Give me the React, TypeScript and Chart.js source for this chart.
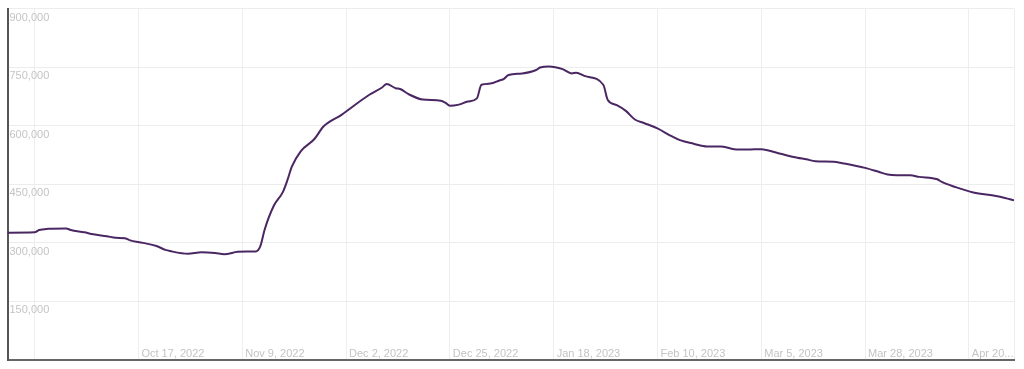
import { useEffect, useRef } from "react";
import { Chart, registerables } from "chart.js";

Chart.register(...registerables);

// x = day index from the start of the series (Sep 18, 2022)
const dayIndex = [
  0, 6, 7, 9, 13, 14, 17, 19, 22, 24, 26, 27, 30, 33, 35, 36, 40, 43, 46, 48,
  51, 53, 55, 56, 57, 59, 61, 62, 63, 65, 68, 70, 74, 80, 83, 84, 86, 87, 89, 92,
  96, 97, 98, 100, 102, 104, 105, 107, 109, 110, 111, 114, 117, 118, 120, 123, 125, 126, 128, 132,
  133, 135, 137, 139, 141, 144, 147, 149, 152, 155, 158, 161, 164, 167, 171, 175, 177, 179, 183, 185,
  190, 193, 195, 197, 200, 202, 206, 207, 210, 214, 219, 221, 223,
];

const values = [
  326000, 327000, 333000, 336000, 337000, 333000, 327000, 322000, 317000, 313000,
  312000, 307000, 300000, 292000, 282000, 279000, 272000, 276000, 274000, 271000,
  277000, 278000, 278000, 291000, 335000, 395000, 430000, 460000, 495000, 535000,
  566000, 598000, 628000, 678000, 698000, 707000, 696000, 694000, 680000, 667000,
  664000, 659000, 651000, 654000, 662000, 670000, 705000, 708000, 716000, 720000,
  730000, 734000, 742000, 749000, 752000, 745000, 734000, 736000, 727000, 705000,
  666000, 653000, 638000, 616000, 607000, 593000, 574000, 563000, 554000, 547000,
  547000, 540000, 539000, 540000, 529000, 518000, 514000, 509000, 508000, 504000,
  492000, 482000, 475000, 473000, 473000, 469000, 463000, 456000, 443000, 429000,
  420000, 415000, 409000,
];

const tickDays = [6, 29, 52, 75, 98, 121, 144, 167, 190, 213, 223];
const tickLabels = [
  "",
  "Oct 17, 2022",
  "Nov 9, 2022",
  "Dec 2, 2022",
  "Dec 25, 2022",
  "Jan 18, 2023",
  "Feb 10, 2023",
  "Mar 5, 2023",
  "Mar 28, 2023",
  "Apr 20...",
  "",
];

const yTicks = [0, 150000, 300000, 450000, 600000, 750000, 900000];
const yTickLabels = ["", "150,000", "300,000", "450,000", "600,000", "750,000", "900,000"];

const FONT = '"Liberation Sans", Arial, Helvetica, sans-serif';

export default function App() {
  const ref = useRef<HTMLCanvasElement>(null);

  useEffect(() => {
    const chart = new Chart(ref.current as HTMLCanvasElement, {
      type: "line",
      data: {
        datasets: [
          {
            data: dayIndex.map((d, i) => ({ x: d, y: values[i] })),
            borderColor: "#4a2762",
            borderWidth: 2,
            pointRadius: 0,
            fill: false,
            cubicInterpolationMode: "monotone",
          },
        ],
      },
      options: {
        responsive: false,
        animation: false,
        layout: { padding: { left: 3.5, right: 10, top: 0, bottom: 9 } },
        plugins: { legend: { display: false }, tooltip: { enabled: false } },
        scales: {
          x: {
            type: "linear",
            min: 0,
            max: 223,
            afterBuildTicks: (s: any) => {
              s.ticks = tickDays.map((v) => ({ value: v }));
            },
            ticks: {
              autoSkip: false,
              align: "start",
              padding: -12.5,
              labelOffset: 3,
              maxRotation: 0,
              color: "#c4c4c4",
              font: { family: FONT, size: 11 },
              callback: (_v: any, i: number) => tickLabels[i] ?? "",
            },
            grid: { color: "#eeeeee", drawTicks: false },
            border: { color: "#666666", width: 2 },
          },
          y: {
            type: "linear",
            min: 0,
            max: 900000,
            afterBuildTicks: (s: any) => {
              s.ticks = yTicks.map((v) => ({ value: v }));
            },
            ticks: {
              mirror: true,
              padding: 2,
              labelOffset: 9,
              color: "#c4c4c4",
              font: { family: FONT, size: 11 },
              callback: (_v: any, i: number) => yTickLabels[i] ?? "",
            },
            grid: { color: "#ececec", drawTicks: false },
            border: { color: "#555555", width: 2 },
          },
        },
      },
    });
    return () => chart.destroy();
  }, []);

  return (
    <div style={{ position: "fixed", left: 0, top: 0, width: 1024, height: 369, background: "#fff" }}>
      <canvas ref={ref} width={1024} height={369} style={{ display: "block" }} />
    </div>
  );
}
